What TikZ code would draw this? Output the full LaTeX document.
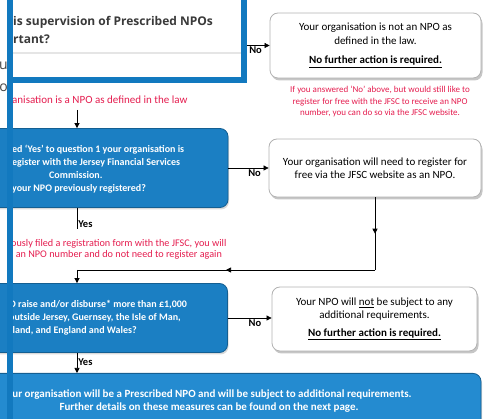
\documentclass[tikz,border=0pt]{standalone}
\usepackage{fontspec}
\setmainfont{Carlito}
\newfontfamily\popfont{Open Sans}
\usetikzlibrary{arrows.meta, positioning, shadows, decorations.markings}

\definecolor{boxblue}{RGB}{27,127,195}
\definecolor{lowblue}{RGB}{36,139,208}
\definecolor{barblue}{RGB}{18,121,191}
\definecolor{notered}{RGB}{228,28,78}
\definecolor{popgrey}{RGB}{58,58,58}
\definecolor{fraggrey}{RGB}{70,70,70}

\tikzset{
  qbox/.style={rectangle, rounded corners=8pt, fill=boxblue, draw=boxblue!75!black, line width=0.8pt,
    drop shadow={opacity=0.3, shadow xshift=1pt, shadow yshift=-2pt}},
  abox/.style={rectangle, rounded corners=8pt, fill=white, draw=gray!60, line width=0.8pt,
    drop shadow={opacity=0.45, shadow xshift=1.5pt, shadow yshift=-2.5pt},
    align=center, font=\fontsize{11}{13.5}\selectfont},
  qtext/.style={text=white, font=\bfseries\fontsize{10}{13}\selectfont, inner sep=0pt},
  note/.style={text=notered, inner sep=0pt},
  frag/.style={text=fraggrey, font=\popfont\fontsize{14}{16}\selectfont, inner sep=0pt},
  flow/.style={-{Triangle[length=5pt,width=5pt]}, line width=0.7pt},
  flowmid/.style={line width=0.7pt, postaction={decorate},
    decoration={markings, mark=at position 0.5 with {\arrow{Triangle[length=5pt,width=5pt]}}}},
  lbl/.style={font=\bfseries\fontsize{10.5}{11}\selectfont, inner sep=1pt},
}

\begin{document}
\begin{tikzpicture}[x=1pt, y=-1pt]
\useasboundingbox (0,0) rectangle (488,419);
\clip (0,0) rectangle (488,419);

% page text showing beside the frame
\node[frag, anchor=east] (f1) at (8,66) {u};
\node[frag, anchor=east] (f2) at (8,88) {o};
\node[frag, anchor=east] (f3) at (10,143) {au};
\node[frag, anchor=east] (f4) at (10,164) {r i};
\node[frag, anchor=east] (f5) at (10,184) {er};

% questions
\node[qbox, minimum width=302pt, minimum height=79pt] (q2) at (77,168) {};
\node[qbox, minimum width=301pt, minimum height=69pt] (q3) at (77,318) {};
\node[qbox, fill=lowblue, minimum width=550pt, minimum height=80pt, anchor=north] (q4) at (206,373) {};

\node[qtext, align=left, anchor=north west] (q2t) at (12,145)
  {ed ‘Yes’ to question 1 your organisation is\\
   egister with the Jersey Financial Services\\
   \hspace*{37pt}Commission.\\
   your NPO previously registered?};
\node[qtext, align=left, anchor=north west] (q3t) at (9,300)
  {O raise and/or disburse* more than £1,000\\
   outside Jersey, Guernsey, the Isle of Man,\\
   tland, and England and Wales?};
\node[qtext, align=center, font=\bfseries\fontsize{11}{12.5}\selectfont] (q4t) at (212,401)
  {ur organisation will be a Prescribed NPO and will be subject to additional requirements.\\
   \hspace*{-6pt}Further details on these measures can be found on the next page.};

% answers
\node[abox, minimum width=211pt, minimum height=65pt] (r1) at (375.5,45.5)
  {Your organisation is not an NPO as\\defined in the law.\\[6pt]
   \underline{\textbf{No further action is required.}}};
\node[abox, minimum width=212pt, minimum height=58pt] (r2) at (375,168)
  {Your organisation will need to register for\\free via the JFSC website as an NPO.};
\node[abox, minimum width=205pt, minimum height=64pt] (r3) at (374.5,319)
  {Your NPO will \underline{not} be subject to any\\additional requirements.\\[4pt]
   \underline{\textbf{No further action is required.}}};

% notes
\node[note, align=center, font=\fontsize{9}{11.5}\selectfont] (n1) at (380,101.5)
  {If you answered ‘No’ above, but would still like to\\
   register for free with the JFSC to receive an NPO\\
   number, you can do so via the JFSC website.};
\node[note, anchor=west, font=\fontsize{11}{12}\selectfont] (n2) at (12,100)
  {anisation is a NPO as defined in the law};
\node[note, align=left, anchor=north west, font=\fontsize{10.2}{11.5}\selectfont] (n3) at (11,239)
  {ously filed a registration form with the JFSC, you will\\
   l an NPO number and do not need to register again};

% connectors
\coordinate (q1e) at (247,45.5);
\coordinate (c0) at (77,110);
\coordinate (y1) at (77,229);
\coordinate (j2) at (77,270);

\draw[flow] (q1e) -- (r1.west) node[lbl, below, pos=0.38] {No};
\draw[flow] (c0) -- (q2.north);
\draw[flow] (q2.east) -- (q2.east -| r2.west) node[lbl, below, pos=0.65] {No};
\draw[line width=0.7pt] (q2.south) -- (y1) node[lbl, anchor=west, pos=0.75] {Yes};
\draw[flowmid] (r2.south) -- (r2.south |- j2) coordinate (j1);
\draw[flowmid] (j1) -- (j2);
\draw[flow] (j2) -- (q3.north);
\draw[flow] (q3.east) -- (q3.east -| r3.west) node[lbl, below, pos=0.62] {No};
\draw[flow] (q3.south) -- (q3.south |- q4.north) node[lbl, anchor=west, pos=0.45] {Yes};

% popup frame on top
\draw[barblue, line width=6pt, fill=white] (10,-10) rectangle (244,80);
\draw[gray!20, line width=2pt] (13,53) -- (241,53);
\node[text=popgrey, font=\popfont\bfseries\fontsize{12}{17.5}\selectfont, align=left,
  anchor=north west, inner sep=0pt] (pq) at (13,16.5)
  {is supervision of Prescribed NPOs\\rtant?};
\fill[barblue] (7,0) rectangle (13,419);
\end{tikzpicture}
\end{document}
